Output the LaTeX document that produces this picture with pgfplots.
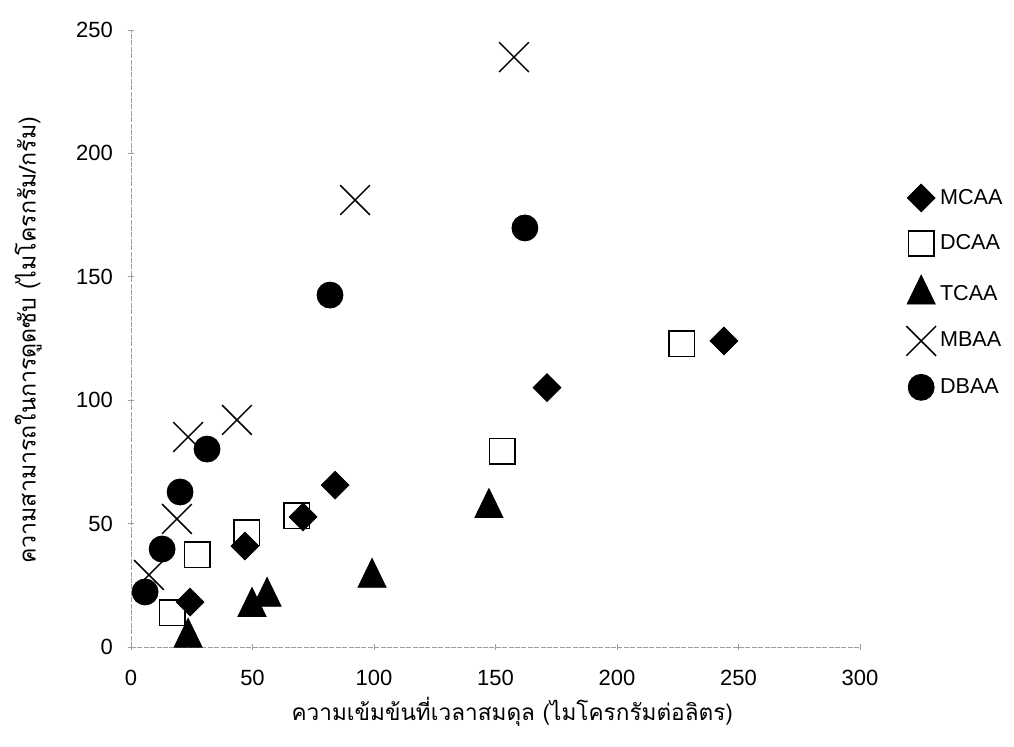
\documentclass[border=0pt]{standalone}
\usepackage{fontspec}
\setmainfont{Liberation Sans}
\newfontfamily\thaifont[Script=Thai]{Loma}
\usepackage{pgfplots}
\pgfplotsset{compat=1.18}
\begin{document}
\begin{tikzpicture}
\useasboundingbox (0,0) rectangle (507pt,373pt);
\begin{axis}[
  at={(65.5pt,49.5pt)}, anchor=origin,
  scale only axis, width=364.5pt, height=308.5pt,
  xmin=0, xmax=300, ymin=0, ymax=250,
  axis x line=bottom, axis y line=left,
  axis line style={-, gray!75, line width=0.5pt, dash pattern=on 2.5pt off 0.7pt},
  xtick={0,50,...,300}, ytick={0,50,...,250},
  tick style={gray!75, line width=0.5pt},
  tick align=center, major tick length=3pt,
  /pgf/number format/assume math mode=true,
  tick label style={font=\fontsize{11}{13}\selectfont},
  xticklabel style={yshift=-6.5pt},
  yticklabel style={xshift=-4pt},
  xlabel={\thaifont ความเข้มข้นที่เวลาสมดุล (ไมโครกรัมต่อลิตร)},
  ylabel={\thaifont ความสามารถในการดูดซับ (ไมโครกรัม/กรัม)},
  xlabel style={at={(axis description cs:0.523,0)}, anchor=center, yshift=-32.5pt, font=\fontsize{11.3}{13}\selectfont},
  ylabel style={at={(axis description cs:-0.141,0.497)}, anchor=center, font=\fontsize{11.6}{13}\selectfont},
  clip=false,
  legend style={at={(axis description cs:1.063,0.575)}, anchor=west, draw=none, fill=none,
    font=\fontsize{10.8}{13}\selectfont, row sep=9.3pt, inner sep=0pt},
  legend cell align=left,
  legend image code/.code={\draw[mark repeat=2,mark phase=2,#1] plot coordinates {(0pt,0pt)(7pt,0pt)(16.5pt,0pt)};},
]
\addplot[only marks, mark=square*, mark size=4.9pt, mark options={rotate=45, fill=black, draw=black}]
  coordinates {(24.3,18.2)(46.9,40.9)(70.8,52.7)(84,65.6)(171.2,105.1)(244,124)};
\addlegendentry{MCAA}
\addplot[only marks, mark=square, mark size=6.3pt, mark options={draw=black, fill=white, line width=0.9pt}]
  coordinates {(16.9,13.8)(27.2,37.3)(47.7,46.2)(68.3,53.1)(152.7,79.4)(226.7,122.8)};
\addlegendentry{DCAA}
\addplot[only marks, mark=triangle*, mark size=8.1pt, mark options={yscale=1.19, fill=black, draw=black}]
  coordinates {(23.5,3.8)(49.8,16.3)(56,20.4)(99.2,28.1)(147.3,56.4)};
\addlegendentry{TCAA}
\addplot[only marks, mark=x, mark size=10.5pt, mark options={draw=black, line width=0.75pt}]
  coordinates {(7.4,29.2)(18.9,51.9)(23.5,85.1)(43.6,92)(92.2,181.1)(157.6,239)};
\addlegendentry{MBAA}
\addplot[only marks, mark=*, mark size=6.5pt, mark options={fill=black, draw=black}]
  coordinates {(5.8,22.3)(12.8,39.7)(20.2,62.8)(31.3,80.2)(81.9,142.6)(162.1,169.8)};
\addlegendentry{DBAA}
\end{axis}
\end{tikzpicture}
\end{document}
